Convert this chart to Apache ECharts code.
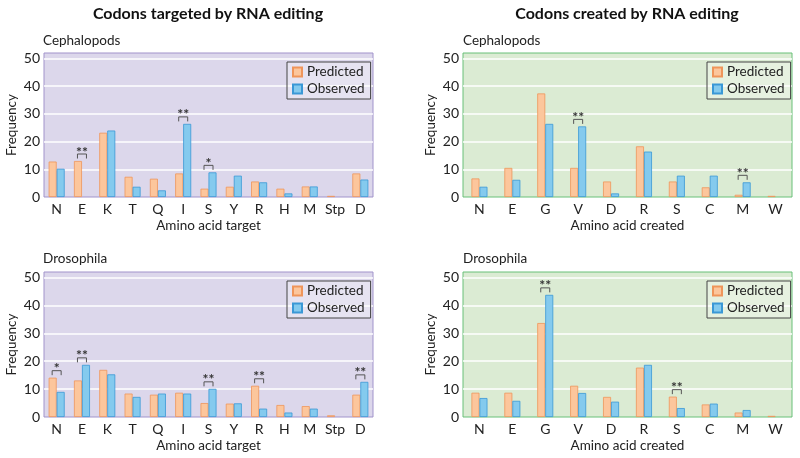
<!DOCTYPE html>
<html><head><meta charset="utf-8">
<script src="https://cdn.jsdelivr.net/npm/echarts@6/dist/echarts.min.js"></script>
<style>html,body{margin:0;padding:0;background:#fff}#c{width:800px;height:458px}</style>
</head><body><div id="c"></div>
<script>
// ---- data ----
const targetCats = ['N','E','K','T','Q','I','S','Y','R','H','M','Stp','D'];
const createdCats = ['N','E','G','V','D','R','S','C','M','W'];
const yTicks = [0,10,20,30,40,50];
const seriesNames = ['Predicted','Observed'];

const cephTargetPred = [12.8,13.0,23.2,7.3,6.6,8.5,3.0,3.7,5.6,3.0,3.8,0.4,8.5];
const cephTargetObs  = [10.2,0,24.0,3.7,2.4,26.4,8.9,7.7,5.3,1.3,3.8,0,6.3];
const cephTargetSig  = ['','**','','','','**','*','','','','','',''];

const cephCreatedPred = [6.7,10.5,37.4,10.5,5.6,18.3,5.6,3.5,0.8,0.4];
const cephCreatedObs  = [3.7,6.2,26.4,25.5,1.3,16.4,7.7,7.7,5.3,0];
const cephCreatedSig  = ['','','','**','','','','','**',''];

const droTargetPred = [14.1,13.1,16.9,8.4,8.0,8.7,5.0,4.8,11.2,4.3,3.9,0.6,8.0];
const droTargetObs  = [9.0,18.7,15.3,7.2,8.4,8.4,10.1,4.9,3.0,1.6,3.0,0,12.6];
const droTargetSig  = ['*','**','','','','','**','','**','','','','**'];

const droCreatedPred = [8.7,8.7,33.7,11.2,7.2,17.7,7.3,4.5,1.6,0.4];
const droCreatedObs  = [6.8,5.8,43.8,8.6,5.5,18.7,3.2,4.8,2.5,0];
const droCreatedSig  = ['','','**','','','','**','','',''];

// ---- styling / layout ----
const FONT = 'Lato, "Open Sans", sans-serif';
const purple = {bg:'#dcd7eb', border:'#a193cb'};
const green  = {bg:'#dbebd3', border:'#68c078'};
const orange = {fill:'#fcc69c', stroke:'#ef955a'};
const blue   = {fill:'#84caee', stroke:'#3a98d6'};

const panels = [
  {cats:targetCats,  pred:cephTargetPred,  obs:cephTargetObs,  sig:cephTargetSig,  rect:{left:44,top:53,width:329,height:144}, col:purple, xName:'Amino acid target',  legend:{left:287,top:62}},
  {cats:createdCats, pred:cephCreatedPred, obs:cephCreatedObs, sig:cephCreatedSig, rect:{left:463,top:53,width:329,height:144}, col:green,  xName:'Amino acid created', legend:{left:707,top:62}},
  {cats:targetCats,  pred:droTargetPred,   obs:droTargetObs,   sig:droTargetSig,   rect:{left:44,top:272,width:329,height:145}, col:purple, xName:'Amino acid target',  legend:{left:287,top:281}},
  {cats:createdCats, pred:droCreatedPred,  obs:droCreatedObs,  sig:droCreatedSig,  rect:{left:463,top:272,width:329,height:145}, col:green,  xName:'Amino acid created', legend:{left:707,top:281}}
];

const grid = [], xAxis = [], yAxis = [], series = [], legend = [];
panels.forEach((p, i) => {
  grid.push(Object.assign({show:true, backgroundColor:p.col.bg, borderColor:p.col.border, borderWidth:1}, p.rect));
  xAxis.push({type:'category', gridIndex:i, data:p.cats,
    axisLine:{show:false}, axisTick:{show:false},
    axisLabel:{interval:0, color:'#222', fontSize:14, fontFamily:FONT, margin:5},
    name:p.xName, nameLocation:'middle', nameGap:22,
    nameTextStyle:{color:'#222', fontSize:13.5, fontFamily:FONT}});
  yAxis.push({type:'value', gridIndex:i, min:0, max:52, interval:10,
    axisLine:{show:false}, axisTick:{show:false},
    axisLabel:{color:'#222', fontSize:14, fontFamily:FONT, margin:4, showMaxLabel:false,
      formatter:v => yTicks.includes(v) ? String(v) : ''},
    splitLine:{show:true, showMinLine:false, showMaxLine:false, lineStyle:{color:'#ffffff', width:1.6}},
    name:'Frequency', nameLocation:'middle', nameGap:25,
    nameTextStyle:{color:'#222', fontSize:13.5, fontFamily:FONT}});
  series.push({type:'bar', name:seriesNames[0], xAxisIndex:i, yAxisIndex:i, barWidth:8, barGap:'0%',
    data:p.pred.map(v => v === 0 ? null : v),
    itemStyle:{color:orange.fill, borderColor:orange.stroke, borderWidth:0.8}});
  series.push({type:'bar', name:seriesNames[1], xAxisIndex:i, yAxisIndex:i, barWidth:8, barGap:'0%',
    data:p.obs.map(v => v === 0 ? null : v),
    itemStyle:{color:blue.fill, borderColor:blue.stroke, borderWidth:0.8}});
  const marks = [], labels = [];
  p.sig.forEach((s, k) => { if (s) { marks.push([k, Math.max(p.pred[k], p.obs[k])]); labels.push(s); } });
  series.push({type:'custom', name:'sig', xAxisIndex:i, yAxisIndex:i, data:marks, z:5,
    renderItem:(params, api) => {
      const pt = api.coord([api.value(0), api.value(1)]);
      const cx = pt[0], top = pt[1], hw = 4.5;
      const yl = top - 7, yb = top - 2.5;
      return {type:'group', children:[
        {type:'polyline', shape:{points:[[cx-hw,yb],[cx-hw,yl],[cx+hw,yl],[cx+hw,yb]]},
          style:{stroke:'#555', lineWidth:1, fill:null}},
        {type:'text', style:{text:labels[params.dataIndex], x:cx, y:yl-2, align:'center', verticalAlign:'middle',
          fill:'#333', font:'bold 14px ' + FONT}}
      ]};
    }});
  legend.push({data:seriesNames, orient:'vertical', left:p.legend.left, top:p.legend.top, icon:'rect',
    backgroundColor:'rgba(255,255,255,0.3)', borderColor:'#444', borderWidth:1, borderRadius:0,
    padding:[3,6,3,5], itemWidth:9, itemHeight:9, itemGap:3, selectedMode:false,
    textStyle:{color:'#222', fontSize:13.5, fontFamily:FONT}});
});

const graphic = [
  {type:'text', x:208, y:14, style:{text:'Codons targeted by RNA editing', align:'center', verticalAlign:'middle', fill:'#111', font:'bold 16px ' + FONT}},
  {type:'text', x:627, y:14, style:{text:'Codons created by RNA editing', align:'center', verticalAlign:'middle', fill:'#111', font:'bold 16px ' + FONT}},
  {type:'text', x:43, y:41, style:{text:'Cephalopods', align:'left', verticalAlign:'middle', fill:'#222', font:'13.5px ' + FONT}},
  {type:'text', x:463, y:41, style:{text:'Cephalopods', align:'left', verticalAlign:'middle', fill:'#222', font:'13.5px ' + FONT}},
  {type:'text', x:43, y:259, style:{text:'Drosophila', align:'left', verticalAlign:'middle', fill:'#222', font:'13.5px ' + FONT}},
  {type:'text', x:463, y:259, style:{text:'Drosophila', align:'left', verticalAlign:'middle', fill:'#222', font:'13.5px ' + FONT}}
];

const chart = echarts.init(document.getElementById('c'), null, {renderer:'canvas'});
chart.setOption({animation:false, backgroundColor:'#ffffff', textStyle:{fontFamily:FONT},
  grid, xAxis, yAxis, series, legend, graphic});
</script></body></html>
